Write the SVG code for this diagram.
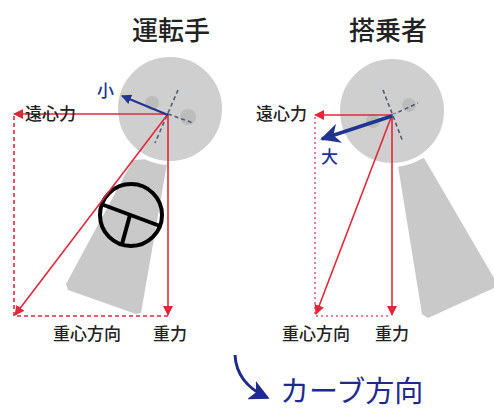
<svg xmlns="http://www.w3.org/2000/svg" width="494" height="410" viewBox="0 0 494 410">
  <defs>
    <style>
      text { font-family: "Noto Sans CJK JP", "Liberation Sans", sans-serif; fill: #222; }
      .title { font-size: 26px; text-anchor: middle; font-weight: 500; }
      .lbl { font-size: 17px; font-weight: 500; }
      .blue { fill: #1f3590; }
      .curve { font-size: 29px; fill: #1f2a8c; }
      .head { fill: #cfcfcf; stroke: #fff; stroke-width: 4; }
      .torso { fill: #c9c9c9; }
      .bump { fill: #bcbcbc; }
      .axis { stroke: #555a70; stroke-width: 1.6; stroke-dasharray: 4 3; fill: none; }
      .force { stroke: #e0283c; stroke-width: 1.6; fill: none; }
      .dash { stroke: #e0283c; stroke-width: 1.6; stroke-dasharray: 4 3; fill: none; }
      .dot { stroke: #e87f8f; stroke-width: 2; stroke-dasharray: 2 3; fill: none; }
      .wheel { stroke: #000; stroke-width: 4; fill: none; }
    </style>
    <marker id="redHead" viewBox="0 0 10 10" refX="9" refY="5" markerWidth="10" markerHeight="10" markerUnits="userSpaceOnUse" orient="auto">
      <path d="M0,0 L10,5 L0,10 z" fill="#e0283c"/>
    </marker>
    <marker id="blueSmall" viewBox="0 0 10 10" refX="9" refY="5" markerWidth="10" markerHeight="10" markerUnits="userSpaceOnUse" orient="auto">
      <path d="M0,0 L10,5 L0,10 z" fill="#1f3590"/>
    </marker>
    <marker id="blueBig" viewBox="0 0 10 10" refX="9" refY="5" markerWidth="20" markerHeight="20" markerUnits="userSpaceOnUse" orient="auto">
      <path d="M0,0 L10,5 L0,10 L3,5 z" fill="#1f3590"/>
    </marker>
    <marker id="navyHead" viewBox="0 0 10 10" refX="8" refY="5" markerWidth="20" markerHeight="20" markerUnits="userSpaceOnUse" orient="auto">
      <path d="M0,0 L10,5 L0,10 L2.5,5 z" fill="#1f2a8c"/>
    </marker>
  </defs>

  <!-- headings -->
  <text class="title" x="171" y="40">運転手</text>
  <text class="title" x="388" y="40">搭乗者</text>

  <!-- driver figure -->
  <g id="driver">
    <path class="torso" d="M133,160 L168,158 L141,313 L136,314 L68,290 L66,284 Z"/>
    <circle class="head" cx="170" cy="109" r="54"/>
    <circle class="bump" cx="152" cy="103" r="7"/>
    <circle class="bump" cx="188" cy="117" r="8"/>
    <path class="axis" d="M178,90 L155,143 M168,114 L193,123"/>
  </g>

  <g id="steering-wheel">
    <circle class="wheel" cx="131" cy="215" r="31"/>
    <path class="wheel" d="M101,204 L160,226 M130,215 L122,244"/>
  </g>

  <!-- passenger figure -->
  <g id="passenger">
    <path class="torso" d="M398,166 L424,158 L494,278 L494,288 L428,318 L422,314 Z"/>
    <circle class="head" cx="392" cy="111" r="54"/>
    <circle class="bump" cx="409" cy="105" r="7"/>
    <circle class="bump" cx="373" cy="121" r="7"/>
    <path class="axis" d="M383,90 L403,142 M392,115 L418,103"/>
    <path d="M388,117 L398,113" stroke="#7fd3f0" stroke-width="1.6" stroke-dasharray="3 2"/>
  </g>

  <!-- force vectors -->
  <g id="connectors">
    <!-- driver -->
    <path class="dash" d="M14,116 L14,316 L168,316"/>
    <path class="force" d="M168,114 L14,114" marker-end="url(#redHead)"/>
    <path class="force" d="M168,114 L168,315" marker-end="url(#redHead)"/>
    <path class="force" d="M168,114 L15,315" marker-end="url(#redHead)"/>
    <path d="M168,115 L122,96" stroke="#1f3590" stroke-width="2" fill="none" marker-end="url(#blueSmall)"/>

    <!-- passenger -->
    <path class="dot" d="M315,117 L315,316 L391,316"/>
    <path class="force" d="M392,115 L315,115" marker-end="url(#redHead)"/>
    <path class="force" d="M392,115 L392,315" marker-end="url(#redHead)"/>
    <path class="force" d="M392,115 L316,314" marker-end="url(#redHead)"/>
    <path d="M392,116 L322,139" stroke="#1f3590" stroke-width="3.5" fill="none" marker-end="url(#blueBig)"/>

    <!-- direction of the curve -->
    <path d="M235,355 C236,373 245,387 266,397" stroke="#1f2a8c" stroke-width="3" fill="none" marker-end="url(#navyHead)"/>
  </g>

  <!-- labels -->
  <text class="lbl" x="25" y="120">遠心力</text>
  <text class="lbl blue" x="97" y="97">小</text>
  <text class="lbl" x="53" y="340">重心方向</text>
  <text class="lbl" x="153" y="340">重力</text>

  <text class="lbl" x="256" y="120">遠心力</text>
  <text class="lbl blue" x="321" y="163">大</text>
  <text class="lbl" x="282" y="340">重心方向</text>
  <text class="lbl" x="375" y="340">重力</text>

  <text class="curve" x="280" y="402">カーブ方向</text>
</svg>
